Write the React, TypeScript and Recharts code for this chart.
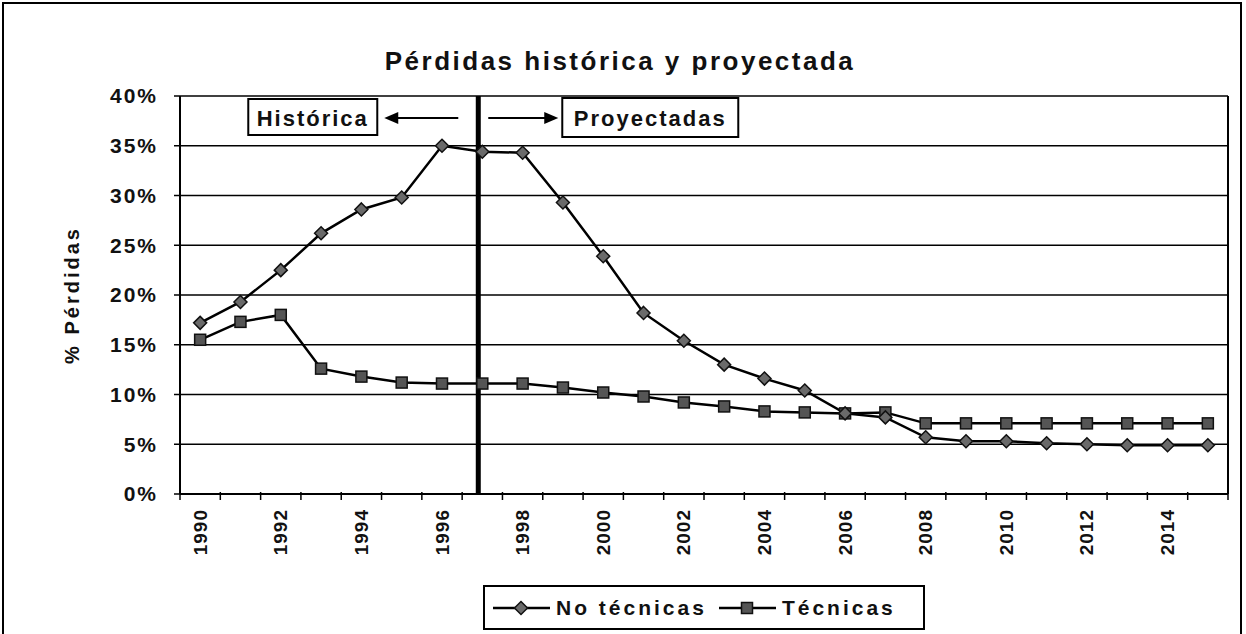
import React from 'react'
import { LineChart, Line, XAxis, YAxis, CartesianGrid, ReferenceLine, Legend } from 'recharts'

const YEARS = [
  1990, 1991, 1992, 1993, 1994, 1995, 1996, 1997, 1998, 1999, 2000, 2001, 2002,
  2003, 2004, 2005, 2006, 2007, 2008, 2009, 2010, 2011, 2012, 2013, 2014, 2015,
]
// % pérdidas no técnicas
const NO_TECNICAS = [
  17.2, 19.3, 22.5, 26.2, 28.6, 29.8, 35.0, 34.4, 34.3, 29.3, 23.9, 18.2, 15.4,
  13.0, 11.6, 10.4, 8.1, 7.7, 5.7, 5.3, 5.3, 5.1, 5.0, 4.9, 4.9, 4.9,
]
// % pérdidas técnicas
const TECNICAS = [
  15.5, 17.3, 18.0, 12.6, 11.8, 11.2, 11.1, 11.1, 11.1, 10.7, 10.2, 9.8, 9.2,
  8.8, 8.3, 8.2, 8.1, 8.2, 7.1, 7.1, 7.1, 7.1, 7.1, 7.1, 7.1, 7.1,
]
const Y_TICKS = [0, 5, 10, 15, 20, 25, 30, 35, 40]
const DIVIDER_YEAR = 1996.9

const data = YEARS.map((year, i) => ({
  year,
  noTecnicas: NO_TECNICAS[i],
  tecnicas: TECNICAS[i],
}))

const FONT = '"Liberation Sans", Arial, sans-serif'
const W = 1246
const H = 634
const PLOT_LEFT = 180
const PLOT_RIGHT = 1228
const PLOT_TOP = 96
const PLOT_BOTTOM = 494
const X_AXIS_H = 60
const BAND = (PLOT_RIGHT - PLOT_LEFT) / YEARS.length

function DiamondDot({ cx, cy }: any) {
  if (cx == null || cy == null) return null
  const r = 6.5
  return (
    <polygon
      points={`${cx},${cy - r} ${cx + r},${cy} ${cx},${cy + r} ${cx - r},${cy}`}
      fill="#6a6a6a"
      stroke="#111"
      strokeWidth={1.5}
    />
  )
}

function SquareDot({ cx, cy }: any) {
  if (cx == null || cy == null) return null
  const s = 5.5
  return (
    <rect x={cx - s} y={cy - s} width={s * 2} height={s * 2} fill="#555" stroke="#111" strokeWidth={1.5} />
  )
}

function YearTick({ x, y, payload, index }: any) {
  const year = payload.value
  const ly = y + 15
  return (
    <g>
      <line x1={x - BAND / 2} x2={x - BAND / 2} y1={y - 2} y2={y + 6} stroke="#000" strokeWidth={1.5} />
      {index === YEARS.length - 1 && (
        <line x1={x + BAND / 2} x2={x + BAND / 2} y1={y - 2} y2={y + 6} stroke="#000" strokeWidth={1.5} />
      )}
      {year % 2 === 0 && (
        <text
          x={x}
          y={ly}
          transform={`rotate(-90 ${x} ${ly})`}
          textAnchor="end"
          dominantBaseline="central"
          fontFamily={FONT}
          fontWeight="bold"
          fontSize={19}
          letterSpacing={1}
          fill="#111"
        >
          {year}
        </text>
      )}
    </g>
  )
}

function DividerLabels(props: any) {
  const vb = props.viewBox || {}
  const lx = vb.x ?? 478
  const top = vb.y ?? PLOT_TOP
  const ay = top + 22
  return (
    <g fontFamily={FONT} fontWeight="bold" fontSize={22} fill="#111">
      <rect x={lx - 230} y={top + 3} width={129} height={36} fill="#fff" stroke="#000" strokeWidth={2} />
      <text x={lx - 165.5} y={top + 22} textAnchor="middle" dominantBaseline="central" letterSpacing={2}>
        Histórica
      </text>
      <line x1={lx - 20} x2={lx - 84} y1={ay} y2={ay} stroke="#000" strokeWidth={2} />
      <polygon points={`${lx - 94},${ay} ${lx - 80},${ay - 6} ${lx - 80},${ay + 6}`} fill="#000" />
      <line x1={lx + 10} x2={lx + 70} y1={ay} y2={ay} stroke="#000" strokeWidth={2} />
      <polygon points={`${lx + 80},${ay} ${lx + 66},${ay - 6} ${lx + 66},${ay + 6}`} fill="#000" />
      <rect x={lx + 84} y={top + 2} width={176} height={39} fill="#fff" stroke="#000" strokeWidth={2} />
      <text x={lx + 172} y={top + 22} textAnchor="middle" dominantBaseline="central" letterSpacing={2}>
        Proyectadas
      </text>
    </g>
  )
}

function LegendBox() {
  const item = (name: string, Dot: any, gap: number) => (
    <div style={{ display: 'flex', alignItems: 'center', marginRight: gap, whiteSpace: 'nowrap' }}>
      <svg width={57} height={20} style={{ marginRight: 6, flex: 'none' }}>
        <line x1={0} x2={57} y1={10} y2={10} stroke="#000" strokeWidth={2.5} />
        <Dot cx={28} cy={10} />
      </svg>
      <span>{name}</span>
    </div>
  )
  return (
    <div
      style={{
        boxSizing: 'border-box',
        width: 442,
        height: 45,
        border: '2px solid #000',
        background: '#fff',
        display: 'flex',
        alignItems: 'center',
        paddingLeft: 8,
        fontFamily: FONT,
        fontWeight: 'bold',
        fontSize: 21,
        letterSpacing: 3,
        color: '#111',
        whiteSpace: 'nowrap',
      }}
    >
      {item('No técnicas', DiamondDot, 12)}
      {item('Técnicas', SquareDot, 0)}
    </div>
  )
}

export default function App() {
  return (
    <div style={{ position: 'absolute', left: 0, top: 0, width: W, height: H, background: '#fff', overflow: 'hidden' }}>
      <div
        style={{
          position: 'absolute',
          left: 2,
          top: 2,
          width: W - 6,
          height: H + 10,
          border: '2px solid #000',
          boxSizing: 'border-box',
        }}
      />
      <div
        style={{
          position: 'absolute',
          left: 0,
          width: 1240,
          top: 46,
          textAlign: 'center',
          fontFamily: FONT,
          fontWeight: 'bold',
          fontSize: 26,
          letterSpacing: 2.5,
          color: '#111',
        }}
      >
        Pérdidas histórica y proyectada
      </div>
      <LineChart
        width={W}
        height={H}
        data={data}
        margin={{ top: PLOT_TOP, right: W - PLOT_RIGHT, bottom: H - PLOT_BOTTOM - X_AXIS_H, left: 0 }}
      >
        <CartesianGrid horizontal vertical={false} stroke="#000" strokeWidth={1.5} />
        <XAxis
          dataKey="year"
          type="number"
          domain={[YEARS[0] - 0.5, YEARS[YEARS.length - 1] + 0.5]}
          ticks={YEARS}
          interval={0}
          height={X_AXIS_H}
          tickSize={0}
          tickMargin={0}
          tickLine={false}
          axisLine={{ stroke: '#000', strokeWidth: 2 }}
          tick={<YearTick />}
        />
        <YAxis
          width={PLOT_LEFT}
          domain={[0, 40]}
          ticks={Y_TICKS}
          interval={0}
          tickFormatter={(v) => `${v}%`}
          axisLine={{ stroke: '#000', strokeWidth: 2 }}
          tickLine={{ stroke: '#000', strokeWidth: 1.5 }}
          tickSize={6}
          tickMargin={16}
          tick={{ fontFamily: FONT, fontWeight: 'bold', fontSize: 21, fill: '#111', letterSpacing: 2 }}
          label={{
            value: '% Pérdidas',
            angle: -90,
            position: 'insideLeft',
            offset: 72,
            style: { fontFamily: FONT, fontWeight: 'bold', fontSize: 20, letterSpacing: 3, fill: '#111', textAnchor: 'middle' },
          }}
        />
        <ReferenceLine x={YEARS[YEARS.length - 1] + 0.5} stroke="#000" strokeWidth={2} />
        <ReferenceLine
          x={DIVIDER_YEAR}
          stroke="#000"
          strokeWidth={5}
          label={(p: any) => <DividerLabels {...p} />}
        />
        <Line
          dataKey="tecnicas"
          name="Técnicas"
          stroke="#000"
          strokeWidth={2.5}
          dot={<SquareDot />}
          isAnimationActive={false}
        />
        <Line
          dataKey="noTecnicas"
          name="No técnicas"
          stroke="#000"
          strokeWidth={2.5}
          dot={<DiamondDot />}
          isAnimationActive={false}
        />
        <Legend
          layout="horizontal"
          verticalAlign="middle"
          align="center"
          content={() => <LegendBox />}
          wrapperStyle={{ left: 483, top: 585, width: 442, height: 45 }}
        />
      </LineChart>
    </div>
  )
}
